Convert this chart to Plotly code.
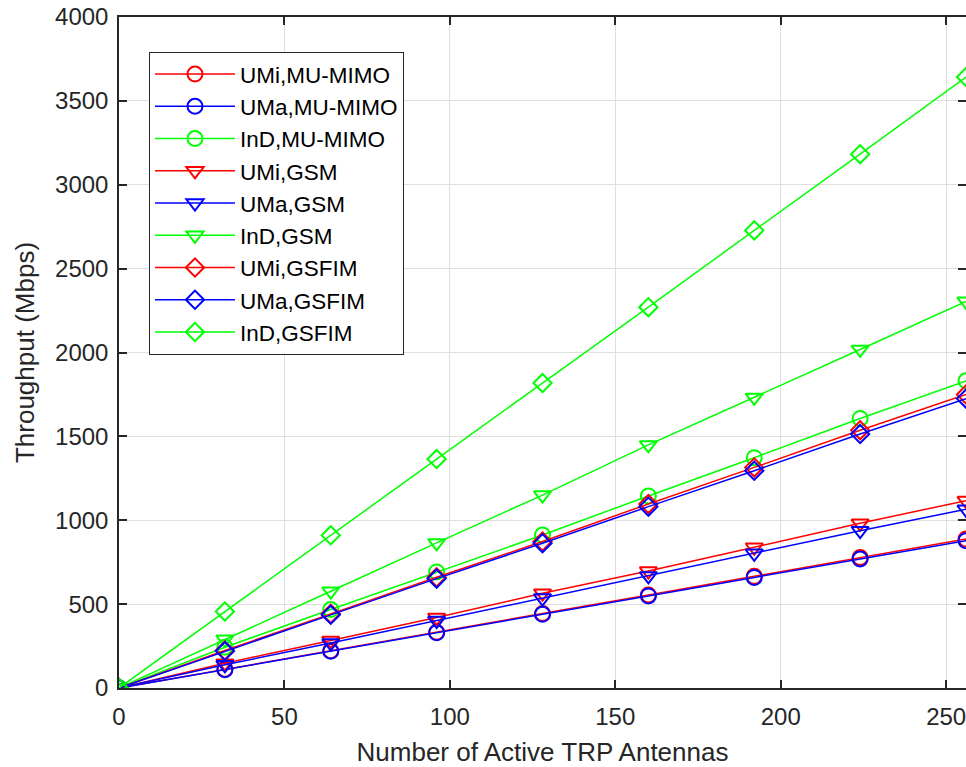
import plotly.graph_objects as go

antennas = [0, 32, 64, 96, 128, 160, 192, 224, 256]
umi_mumimo = [0, 112, 222, 333, 444, 555, 666, 778, 888]
uma_mumimo = [0, 109, 219, 329, 439, 549, 659, 769, 878]
ind_mumimo = [0, 243, 468, 692, 912, 1145, 1373, 1607, 1831]
umi_gsm = [0, 148, 283, 420, 565, 697, 839, 982, 1117]
uma_gsm = [0, 138, 268, 402, 536, 668, 803, 938, 1065]
ind_gsm = [0, 290, 577, 865, 1150, 1449, 1732, 2018, 2305]
umi_gsfim = [0, 224, 442, 660, 873, 1097, 1315, 1537, 1750]
uma_gsfim = [0, 220, 436, 652, 863, 1081, 1295, 1514, 1725]
ind_gsfim = [0, 456, 910, 1365, 1818, 2270, 2728, 3182, 3642]

series = [
    ("UMi,MU-MIMO", umi_mumimo, "#ff0000", "circle-open"),
    ("UMa,MU-MIMO", uma_mumimo, "#0000ff", "circle-open"),
    ("InD,MU-MIMO", ind_mumimo, "#00ff00", "circle-open"),
    ("UMi,GSM", umi_gsm, "#ff0000", "triangle-down-open"),
    ("UMa,GSM", uma_gsm, "#0000ff", "triangle-down-open"),
    ("InD,GSM", ind_gsm, "#00ff00", "triangle-down-open"),
    ("UMi,GSFIM", umi_gsfim, "#ff0000", "diamond-open"),
    ("UMa,GSFIM", uma_gsfim, "#0000ff", "diamond-open"),
    ("InD,GSFIM", ind_gsfim, "#00ff00", "diamond-open"),
]
sizes = {"circle-open": 15, "triangle-down-open": 15, "diamond-open": 14}

fig = go.Figure()
for name, vals, color, sym in series:
    fig.add_trace(go.Scatter(
        x=antennas, y=vals, name=name, mode="lines+markers",
        line=dict(color=color, width=1.5),
        marker=dict(symbol=sym, size=sizes[sym], color=color,
                    line=dict(color=color, width=2)),
    ))

axis_common = dict(
    showline=True, linecolor="#262626", linewidth=1.5, mirror="ticks",
    ticks="inside", ticklen=8, tickwidth=1.5, tickcolor="#262626",
    showgrid=True, gridcolor="#dfdfdf", gridwidth=1, zeroline=False,
    automargin=False, ticklabeloverflow="allow",
    tickfont=dict(family="Liberation Sans, Arial", size=24, color="#262626"),
)

fig.update_layout(
    width=966, height=767,
    margin=dict(l=119, r=0, t=17, b=79, autoexpand=False),
    paper_bgcolor="white", plot_bgcolor="white",
    font=dict(family="Liberation Sans, Arial", color="#262626"),
    xaxis=dict(range=[0, 256], tickvals=[0, 50, 100, 150, 200, 250],
               ticklabelstandoff=6,
               title=dict(text="Number of Active TRP Antennas",
                          font=dict(size=26, color="#262626"), standoff=22),
               **axis_common),
    yaxis=dict(range=[0, 4000], tickvals=list(range(0, 4001, 500)),
               ticklabelstandoff=4,
               title=dict(text="Throughput (Mbps)",
                          font=dict(size=26, color="#262626"), standoff=13),
               **axis_common),
    legend=dict(x=0.0354, y=0.948, xanchor="left", yanchor="top",
                bgcolor="white", bordercolor="#262626", borderwidth=1,
                font=dict(size=22.5, color="#000000", family="Liberation Sans, Arial"),
                itemwidth=80, tracegroupgap=0),
    showlegend=True,
)

fig.write_html("out.html", config={"displayModeBar": False},
               post_script="document.body.style.margin='0';document.body.style.overflow='hidden';")
